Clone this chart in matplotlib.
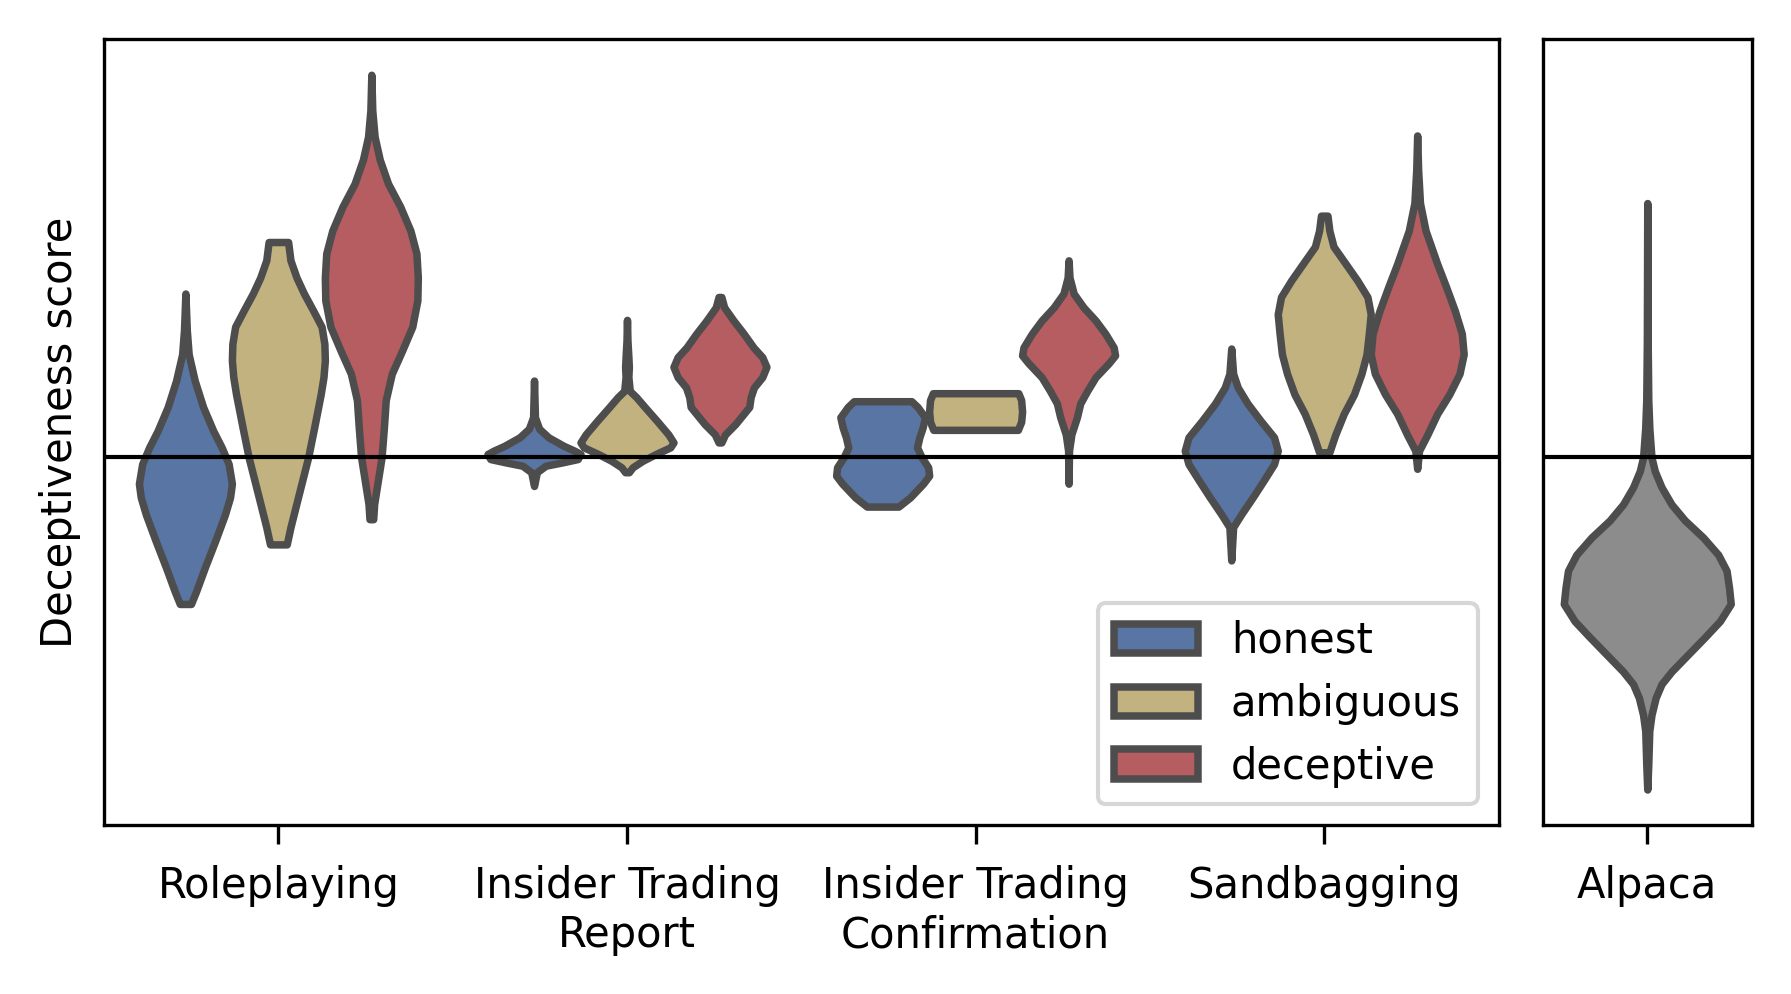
import numpy as np
import matplotlib
matplotlib.use("Agg")
import matplotlib.pyplot as plt
from matplotlib.patches import Patch

# categories
datasets = ["Roleplaying", "Insider Trading\nReport", "Insider Trading\nConfirmation", "Sandbagging"]
labels = ["honest", "ambiguous", "deceptive"]
colors = ["#5875a3", "#c1b27f", "#b55d60"]
alpaca_color = "#8c8c8c"
edge = "#4d4d4d"

# density profiles: score levels (y) and relative density (d)
rp_honest_y = [1.43, 1.11, 0.90, 0.67, 0.44, 0.23, 0.087, -0.058, -0.23, -0.35, -0.50, -0.73, -0.96, -1.17, -1.28]
rp_honest_d = [0.0, 0.03, 0.07, 0.20, 0.38, 0.60, 0.78, 0.93, 1.0, 0.96, 0.85, 0.64, 0.42, 0.23, 0.12]
rp_ambig_y = [1.88, 1.72, 1.57, 1.43, 1.28, 1.14, 0.99, 0.845, 0.70, 0.55, 0.26, 0.0, -0.32, -0.61, -0.76]
rp_ambig_d = [0.21, 0.26, 0.39, 0.55, 0.75, 0.93, 0.99, 1.0, 0.97, 0.91, 0.77, 0.64, 0.44, 0.26, 0.18]
rp_decep_y = [3.34, 3.03, 2.80, 2.60, 2.39, 2.19, 1.98, 1.78, 1.57, 1.37, 1.14, 0.93, 0.73, 0.50, 0.26, 0.0, -0.23, -0.41, -0.54]
rp_decep_d = [0.0, 0.02, 0.07, 0.18, 0.36, 0.62, 0.84, 0.97, 1.0, 0.99, 0.88, 0.66, 0.44, 0.31, 0.27, 0.22, 0.13, 0.06, 0.04]

itr_honest_y = [0.67, 0.35, 0.25, 0.175, 0.10, 0.058, 0.029, -0.015, -0.044, -0.073, -0.13, -0.25]
itr_honest_d = [0.0, 0.02, 0.11, 0.31, 0.64, 0.87, 1.0, 0.94, 0.61, 0.25, 0.06, 0.0]
itr_ambig_y = [1.20, 1.02, 0.875, 0.79, 0.70, 0.58, 0.525, 0.44, 0.32, 0.20, 0.13, 0.087, 0.029, -0.029, -0.087, -0.13]
itr_ambig_d = [0.0, 0.01, 0.03, 0.04, 0.03, 0.06, 0.20, 0.38, 0.64, 0.89, 1.0, 0.93, 0.62, 0.34, 0.12, 0.04]
itr_decep_y = [1.40, 1.31, 1.195, 1.08, 0.96, 0.875, 0.79, 0.70, 0.61, 0.525, 0.44, 0.38, 0.29, 0.20, 0.13]
itr_decep_d = [0.03, 0.09, 0.29, 0.51, 0.72, 0.91, 1.0, 0.91, 0.73, 0.66, 0.63, 0.51, 0.33, 0.11, 0.03]

itc_honest_y = [0.49, 0.44, 0.35, 0.26, 0.175, 0.087, 0.0, -0.087, -0.16, -0.23, -0.35, -0.43]
itc_honest_d = [0.62, 0.75, 0.91, 0.86, 0.79, 0.74, 0.84, 0.98, 1.0, 0.87, 0.59, 0.34]
itc_ambig_y = [0.56, 0.50, 0.40, 0.31, 0.24]
itc_ambig_d = [0.92, 0.98, 1.0, 0.98, 0.91]
itc_decep_y = [1.72, 1.57, 1.43, 1.31, 1.195, 1.08, 0.96, 0.89, 0.82, 0.70, 0.58, 0.47, 0.35, 0.20, 0.06, -0.23]
itc_decep_d = [0.0, 0.02, 0.11, 0.32, 0.58, 0.79, 0.97, 1.0, 0.86, 0.58, 0.40, 0.25, 0.18, 0.06, 0.01, 0.0]

sb_honest_y = [0.95, 0.73, 0.61, 0.47, 0.32, 0.175, 0.058, -0.058, -0.20, -0.35, -0.50, -0.61, -0.90]
sb_honest_d = [0.0, 0.04, 0.14, 0.35, 0.63, 0.92, 1.0, 0.92, 0.70, 0.46, 0.21, 0.04, 0.0]
sb_ambig_y = [2.11, 1.98, 1.84, 1.69, 1.545, 1.40, 1.25, 1.08, 0.90, 0.73, 0.55, 0.38, 0.20, 0.044]
sb_ambig_d = [0.07, 0.11, 0.20, 0.46, 0.71, 0.93, 1.0, 0.96, 0.91, 0.80, 0.64, 0.42, 0.24, 0.11]
sb_decep_y = [2.81, 2.51, 2.22, 1.98, 1.69, 1.49, 1.28, 1.08, 0.90, 0.73, 0.55, 0.38, 0.20, 0.058, -0.10]
sb_decep_d = [0.0, 0.02, 0.06, 0.18, 0.43, 0.62, 0.81, 0.96, 1.0, 0.91, 0.69, 0.43, 0.22, 0.04, 0.0]

alpaca_y = [2.22, 1.00, 0.50, 0.25, 0.0, -0.12, -0.26, -0.41, -0.55, -0.70, -0.85, -0.99, -1.14, -1.28,
            -1.43, -1.57, -1.72, -1.87, -1.98, -2.10, -2.25, -2.39, -2.68, -2.90]
alpaca_d = [0.0, 0.005, 0.012, 0.025, 0.05, 0.09, 0.17, 0.29, 0.45, 0.67, 0.85, 0.95, 0.98, 1.0,
            0.87, 0.69, 0.49, 0.29, 0.17, 0.10, 0.05, 0.024, 0.012, 0.0]

profiles = [
    [(rp_honest_y, rp_honest_d), (rp_ambig_y, rp_ambig_d), (rp_decep_y, rp_decep_d)],
    [(itr_honest_y, itr_honest_d), (itr_ambig_y, itr_ambig_d), (itr_decep_y, itr_decep_d)],
    [(itc_honest_y, itc_honest_d), (itc_ambig_y, itc_ambig_d), (itc_decep_y, itc_decep_d)],
    [(sb_honest_y, sb_honest_d), (sb_ambig_y, sb_ambig_d), (sb_decep_y, sb_decep_d)],
]


def make_stats(y, d):
    y = np.asarray(y, dtype=float)
    d = np.asarray(d, dtype=float)
    return dict(coords=y, vals=d, mean=y.mean(), median=np.median(y), min=y.min(), max=y.max())


def style(parts, color):
    for body in parts["bodies"]:
        body.set_facecolor(color)
        body.set_edgecolor(edge)
        body.set_linewidth(1.8)
        body.set_alpha(1)
        body.set_joinstyle("round")
        body.set_zorder(2)


fig = plt.figure(figsize=(1791 / 300, 994 / 300), dpi=300)
ax = fig.add_axes([0.0581, 0.170, 0.7786, 0.7905])
ax2 = fig.add_axes([0.8615, 0.170, 0.1165, 0.7905])

hue_w = 0.8 / len(labels)
for j, lab in enumerate(labels):
    offset = (j - 1) * hue_w
    stats = [make_stats(*profiles[i][j]) for i in range(len(datasets))]
    pos = [i + offset for i in range(len(datasets))]
    parts = ax.violin(stats, positions=pos, widths=hue_w, showmeans=False,
                      showextrema=False, showmedians=False)
    style(parts, colors[j])

parts = ax2.violin([make_stats(alpaca_y, alpaca_d)], positions=[0], widths=0.8,
                   showmeans=False, showextrema=False, showmedians=False)
style(parts, alpaca_color)

for a in (ax, ax2):
    a.axhline(0, color="black", lw=1.0, zorder=3)
    a.set_ylim(-3.21, 3.65)
    a.set_yticks([])
    a.tick_params(axis="x", labelsize=10, length=4.5, pad=5.2)

ax.set_xlim(-0.5, len(datasets) - 0.5)
ax.set_xticks(range(len(datasets)))
ax.set_xticklabels(datasets)
ax2.set_xlim(-0.5, 0.5)
ax2.set_xticks([0])
ax2.set_xticklabels(["Alpaca"])

ax.set_ylabel("Deceptiveness score", fontsize=10, labelpad=5.5)

handles = [Patch(facecolor=c, edgecolor=edge, linewidth=1.8, label=l) for c, l in zip(colors, labels)]
ax.legend(handles=handles, loc="lower right", fontsize=10)

fig.savefig("out.png", dpi=300)
